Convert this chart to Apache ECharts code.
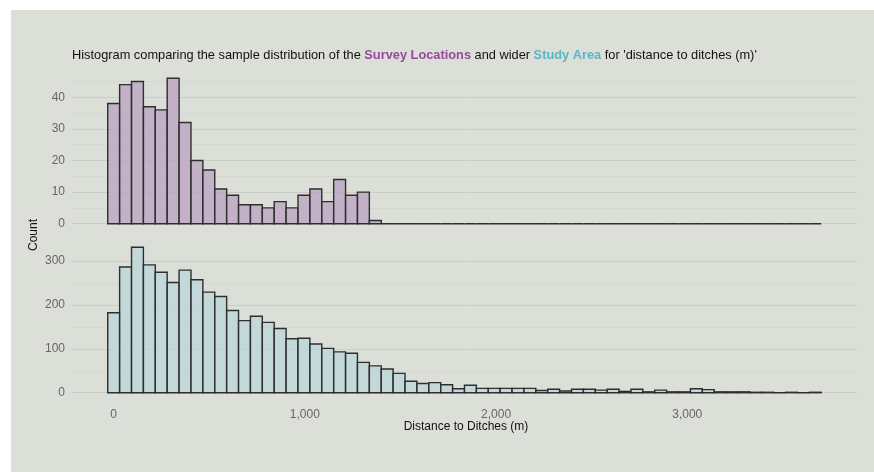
<!DOCTYPE html>
<html>
<head>
<meta charset="utf-8">
<script src="https://cdn.jsdelivr.net/npm/echarts@6/dist/echarts.min.js"></script>
<style>
html,body{margin:0;padding:0;background:#ffffff;}
#chart{width:874px;height:472px;}
</style>
</head>
<body>
<div id="chart"></div>
<script>
// ---- data ----
const binWidth = 62.2; // metres per histogram bin (bins centred on 0)
const surveyCounts = [38,44,45,37,36,46,32,20,17,11,9,6,6,5,7,5,9,11,7,14,9,10,1,
  0,0,0,0,0,0,0,0,0,0,0,0,0,0,0,0,0,0,0,0,0,0,0,0,0,0,0,0,0,0,0,0,0,0,0,0,0];
const studyCounts = [182,286,331,291,274,251,279,257,229,219,187,164,174,160,146,123,124,111,101,93,
  90,69,61,54,44,26,21,23,18,9,17,10,10,10,10,10,5,8,4,8,8,6,8,3,8,2,6,2,2,9,7,2,2,2,1,1,0,1,0,1];
const xTicks = [0, 1000, 2000, 3000];
const surveyYTicks = [0, 10, 20, 30, 40];
const surveyYGrid = [0, 5, 10, 15, 20, 25, 30, 35, 40, 45];
const studyYTicks = [0, 100, 200, 300];
const studyYGrid = [0, 50, 100, 150, 200, 250, 300];

function toBins(counts){
  return counts.map((c, i) => [i*binWidth - binWidth/2, i*binWidth + binWidth/2, c]);
}

const chart = echarts.init(document.getElementById('chart'), null, {renderer:'canvas'});
const BG = '#dcdfd8';
const FONT = '"Liberation Sans", Arial, sans-serif';

function makeRender(fill){
  return function(params, api){
    const p0 = api.coord([api.value(0), api.value(2)]);
    const p1 = api.coord([api.value(1), 0]);
    return {
      type: 'rect',
      shape: {x: p0[0], y: p0[1], width: p1[0]-p0[0], height: p1[1]-p0[1]},
      style: {fill: fill, stroke: '#2e2e2e', lineWidth: 1.4}
    };
  };
}

const xMin = -218, xMax = 3888;

function yAxisDef(idx, min, max, labels, grid){
  return {
    type: 'value', gridIndex: idx, min: min, max: max,
    axisLine: {show: false},
    axisTick: {show: false, customValues: grid},
    axisLabel: {customValues: labels, color: '#666666', fontSize: 12, fontFamily: FONT, margin: 7,
      formatter: v => v.toLocaleString('en-US')},
    splitLine: {show: true, lineStyle: {color: ['#cbcec7', '#d4d7d0'], width: 1}}
  };
}

chart.setOption({
  backgroundColor: '#ffffff',
  animation: false,
  graphic: [
    {type: 'rect', z: -10, shape: {x: 11, y: 10, width: 863, height: 462}, style: {fill: BG}},
    {type: 'text', left: 72, top: 49, z: 10, style: {
      text: "{a|Histogram comparing the sample distribution of the }{s|Survey Locations}{a| and wider }{t|Study Area}{a| for 'distance to ditches (m)'}",
      rich: {
        a: {fill: '#111111', fontSize: 12.8, fontFamily: FONT},
        s: {fill: '#96489a', fontSize: 12.8, fontFamily: FONT, fontWeight: 'bold'},
        t: {fill: '#5cb4c2', fontSize: 12.8, fontFamily: FONT, fontWeight: 'bold'}
      }
    }},
    {type: 'text', x: 34, y: 235, rotation: Math.PI/2, z: 10, style: {
      text: 'Count', fill: '#111111', fontSize: 12, fontFamily: FONT, align: 'center', verticalAlign: 'middle'
    }},
    {type: 'text', x: 466, y: 427, z: 10, style: {
      text: 'Distance to Ditches (m)', fill: '#111111', fontSize: 12, fontFamily: FONT, align: 'center', verticalAlign: 'middle'
    }}
  ],
  grid: [
    {left: 72, right: 17, top: 71, height: 160, containLabel: false},
    {left: 72, right: 17, top: 240, height: 160, containLabel: false}
  ],
  xAxis: [
    {type: 'value', gridIndex: 0, min: xMin, max: xMax, axisLine: {show: false}, axisTick: {show: false},
      axisLabel: {show: false}, splitLine: {show: false}},
    {type: 'value', gridIndex: 1, min: xMin, max: xMax, axisLine: {show: false},
      axisTick: {show: false, customValues: xTicks},
      axisLabel: {customValues: xTicks, color: '#666666', fontSize: 12, fontFamily: FONT, margin: 9,
        formatter: v => v.toLocaleString('en-US')},
      splitLine: {show: false}}
  ],
  yAxis: [
    yAxisDef(0, -2.3, 48.3, surveyYTicks, surveyYGrid),
    yAxisDef(1, -16.55, 347.55, studyYTicks, studyYGrid)
  ],
  series: [
    {type: 'custom', xAxisIndex: 0, yAxisIndex: 0, data: toBins(surveyCounts),
      encode: {x: [0, 1], y: 2}, renderItem: makeRender('rgba(186,160,193,0.72)')},
    {type: 'custom', xAxisIndex: 1, yAxisIndex: 1, data: toBins(studyCounts),
      encode: {x: [0, 1], y: 2}, renderItem: makeRender('rgba(186,213,216,0.72)')}
  ]
});
</script>
</body>
</html>
